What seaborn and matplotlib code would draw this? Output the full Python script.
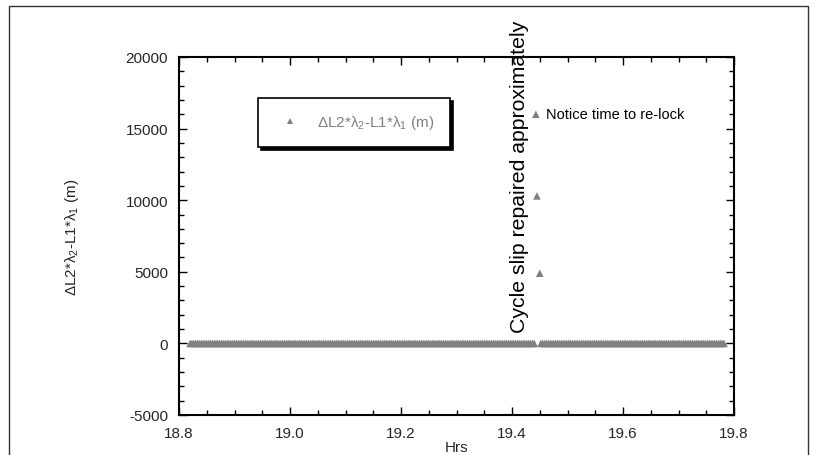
import numpy as np
import pandas as pd
import matplotlib
matplotlib.use("Agg")
import matplotlib.pyplot as plt
from matplotlib.lines import Line2D
from matplotlib.patches import Rectangle
import seaborn as sns

# ---- data ----
# regular epochs with the geometry-free combination at ~0 m
epoch_step_h = 12.0 / 3600.0
seg1_start, seg1_end = 18.820, 19.442
seg2_start, seg2_end = 19.452, 19.783
spike_hrs = [19.443, 19.445, 19.450]
spike_vals = [16000, 10300, 4900]

x_ticks = [18.8, 19.0, 19.2, 19.4, 19.6, 19.8]
y_ticks = [-5000, 0, 5000, 10000, 15000, 20000]

legend_label = r'$\Delta$L2*$\lambda_2$-L1*$\lambda_1$ (m)'
ylabel = r'$\Delta$L2*$\lambda_2$-L1*$\lambda_1$ (m)'
xlabel = 'Hrs'
note_slip = 'Cycle slip repaired approximately'
note_lock = 'Notice time to re-lock'

t1 = np.arange(seg1_start, seg1_end + 1e-9, epoch_step_h)
t2 = np.arange(seg2_start, seg2_end + 1e-9, epoch_step_h)
hrs = np.concatenate([t1, np.array(spike_hrs), t2])
vals = np.concatenate([np.zeros(len(t1)), np.array(spike_vals, float), np.zeros(len(t2))])
df = pd.DataFrame({"Hrs": hrs, "val": vals})

sns.set_theme(style="white")
plt.rcParams['font.family'] = ['Liberation Sans', 'DejaVu Sans']
plt.rcParams['mathtext.default'] = 'regular'
plt.rcParams['axes.unicode_minus'] = False

fig = plt.figure(figsize=(8.17, 4.56), dpi=100)
ax = fig.add_axes([179/817, 40/456, 555/817, 358/456])

gray = '#808080'
sns.scatterplot(data=df, x="Hrs", y="val", marker='^', color=gray, s=30,
                edgecolor='none', linewidth=0, ax=ax, legend=False)

ax.set_xlim(18.8, 19.8)
ax.set_ylim(-5000, 20000)
ax.set_xticks(x_ticks)
ax.set_xticklabels([f"{v:.1f}" for v in x_ticks])
ax.set_yticks(y_ticks)
ax.set_yticklabels([str(v) for v in y_ticks])
ax.set_xticks(np.arange(18.8, 19.8001, 0.05), minor=True)
ax.set_yticks(np.arange(-5000, 20001, 1000), minor=True)

for sp in ax.spines.values():
    sp.set_color('black')
    sp.set_linewidth(1.5)
ax.tick_params(which='both', direction='in', top=True, right=True,
               bottom=True, left=True, color='black', width=1.0)
ax.tick_params(which='major', length=6, labelsize=11, pad=8)
ax.tick_params(which='minor', length=3.5)

ax.set_xlabel(xlabel, fontsize=11, labelpad=0)
ax.set_ylabel(ylabel, fontsize=11, labelpad=32)

# annotations
ax.text(19.413, 11700, note_slip, rotation=90, fontsize=15.3,
        ha='center', va='center', color='black', clip_on=False)
ax.text(19.462, 16000, note_lock, fontsize=10.5, ha='left', va='center',
        color='black')

# legend
handle = Line2D([], [], marker='^', linestyle='none', color=gray,
                markersize=5, markeredgewidth=0)
leg = ax.legend([handle], [legend_label], loc='upper left',
                bbox_to_anchor=(0.142, 0.885), fontsize=11,
                frameon=True, fancybox=False, shadow={'color': 'black', 'alpha': 1},
                borderpad=1.0, handlelength=2.2, handletextpad=0.7,
                borderaxespad=0)
leg.get_frame().set_edgecolor('black')
leg.get_frame().set_linewidth(1.2)
for txt in leg.get_texts():
    txt.set_color(gray)

# outer frame
fig.patches.append(Rectangle((9/817, -0.05), 799/817, 1 - 7/456 + 0.05,
                             transform=fig.transFigure, fill=False,
                             edgecolor='#333333', linewidth=1.0, clip_on=False))

fig.savefig('out.png', dpi=100)
